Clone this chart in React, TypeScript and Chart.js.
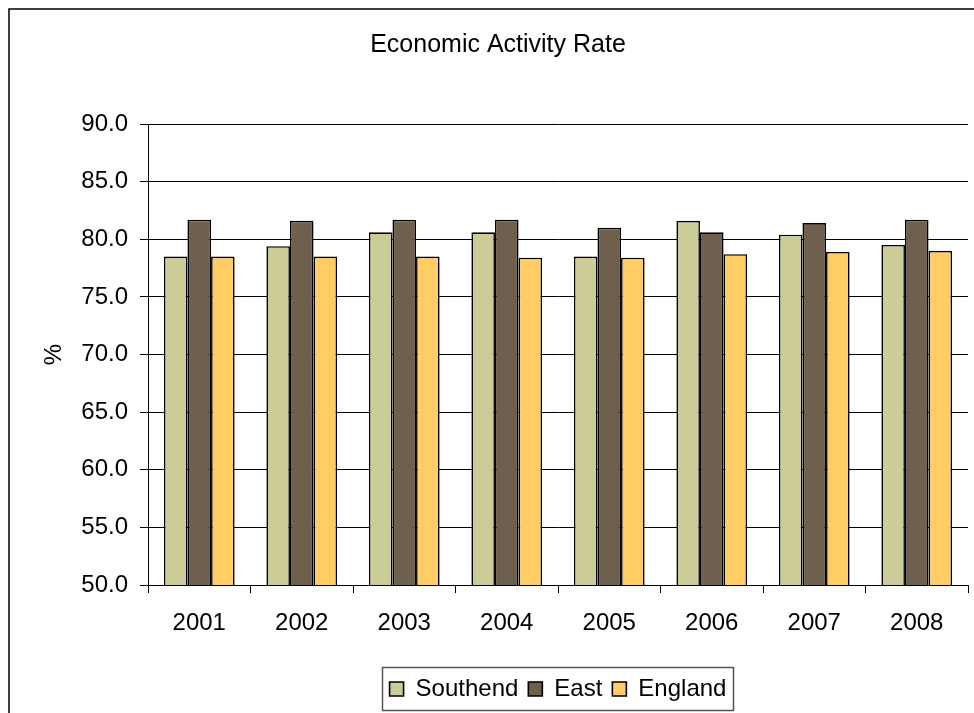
import React, { useEffect, useRef } from 'react';
import { Chart, registerables } from 'chart.js';

Chart.register(...registerables);

const years = ['2001', '2002', '2003', '2004', '2005', '2006', '2007', '2008'];
const southend = [78.5, 79.4, 80.6, 80.6, 78.5, 81.6, 80.4, 79.5];
const east = [81.7, 81.6, 81.7, 81.7, 81.0, 80.6, 81.4, 81.7];
const england = [78.5, 78.5, 78.5, 78.4, 78.4, 78.7, 78.9, 79.0];
const seriesNames = ['Southend', 'East', 'England'];
const seriesColors = ['#CCCC99', '#6F604D', '#FFCC66'];
const chartTitle = 'Economic Activity Rate';
const yMin = 50;
const yMax = 90;
const yStep = 5;

const FONT = 'Arial, "Liberation Sans", sans-serif';

const framePlugin = {
  id: 'framePlugin',
  beforeDraw(chart: any) {
    const ctx = chart.ctx;
    ctx.save();
    ctx.fillStyle = '#ffffff';
    ctx.fillRect(0, 0, chart.width, chart.height);
    ctx.strokeStyle = '#000000';
    ctx.lineWidth = 1.5;
    ctx.strokeRect(9, 9, chart.width + 50, chart.height + 50);
    ctx.restore();
  },
  afterDraw(chart: any) {
    const ctx = chart.ctx;
    // chart title
    ctx.save();
    ctx.fillStyle = '#000000';
    ctx.font = '25px ' + FONT;
    ctx.textAlign = 'center';
    ctx.textBaseline = 'middle';
    ctx.fillText(chartTitle, 498, 45);
    ctx.restore();

    const lg = chart.legend;
    if (!lg || !lg.legendHitBoxes || !lg.legendHitBoxes.length) return;
    const boxes = lg.legendHitBoxes;
    let minX = Infinity;
    let maxX = -Infinity;
    boxes.forEach((b: any) => {
      minX = Math.min(minX, b.left);
      maxX = Math.max(maxX, b.left + b.width);
    });
    ctx.save();
    ctx.strokeStyle = '#555555';
    ctx.lineWidth = 1.5;
    ctx.strokeRect(Math.round(minX - 8) + 0.5, Math.round(lg.top) + 0.5, Math.round(maxX - minX + 14), Math.round(lg.bottom - lg.top) - 1);
    ctx.restore();
  },
};

export default function App() {
  const canvasRef = useRef<HTMLCanvasElement | null>(null);

  useEffect(() => {
    const canvas = canvasRef.current;
    if (!canvas) return;
    const dataSets = [southend, east, england].map((values, i) => ({
      label: seriesNames[i],
      data: values,
      backgroundColor: seriesColors[i],
      borderColor: '#000000',
      borderWidth: 1.6,
      categoryPercentage: 0.69,
      barPercentage: 1.0,
    }));
    const chart = new Chart(canvas, {
      type: 'bar',
      data: { labels: years, datasets: dataSets },
      plugins: [framePlugin],
      options: {
        animation: false,
        responsive: false,
        devicePixelRatio: 1,
        layout: { padding: { left: 0, right: 6, top: 124, bottom: 2 } },
        plugins: {
          title: { display: false },
          legend: {
            display: true,
            position: 'bottom',
            fullSize: false,
            labels: {
              color: '#000000',
              font: { family: FONT, size: 24 },
              boxWidth: 14,
              boxHeight: 14,
              padding: 10,
            },
          },
          tooltip: { enabled: false },
        },
        scales: {
          x: {
            offset: true,
            grid: {
              offset: true,
              drawOnChartArea: false,
              drawTicks: true,
              tickLength: 8,
              color: '#000000',
              lineWidth: 1,
            },
            border: { display: true, color: '#000000', width: 1 },
            ticks: {
              color: '#000000',
              font: { family: FONT, size: 24 },
              padding: 16,
              maxRotation: 0,
            },
            afterFit(scale: any) {
              scale.height = 82;
            },
          },
          y: {
            min: yMin,
            max: yMax,
            grid: {
              color: '#000000',
              lineWidth: 1,
              drawTicks: true,
              tickLength: 8,
            },
            border: { display: true, color: '#000000', width: 1 },
            ticks: {
              stepSize: yStep,
              color: '#000000',
              font: { family: FONT, size: 24 },
              padding: 12,
              callback: (v: any) => Number(v).toFixed(1),
            },
            title: {
              display: true,
              text: '%',
              color: '#000000',
              font: { family: FONT, size: 24 },
              padding: { top: 40, bottom: 0 },
            },
            afterFit(scale: any) {
              scale.width = 148;
            },
          },
        },
      },
    });
    return () => chart.destroy();
  }, []);

  return (
    <div style={{ position: 'absolute', left: 0, top: 0, width: 974, height: 713, background: '#fff', overflow: 'hidden' }}>
      <canvas ref={canvasRef} width={974} height={713} style={{ display: 'block', width: 974, height: 713 }} />
    </div>
  );
}
